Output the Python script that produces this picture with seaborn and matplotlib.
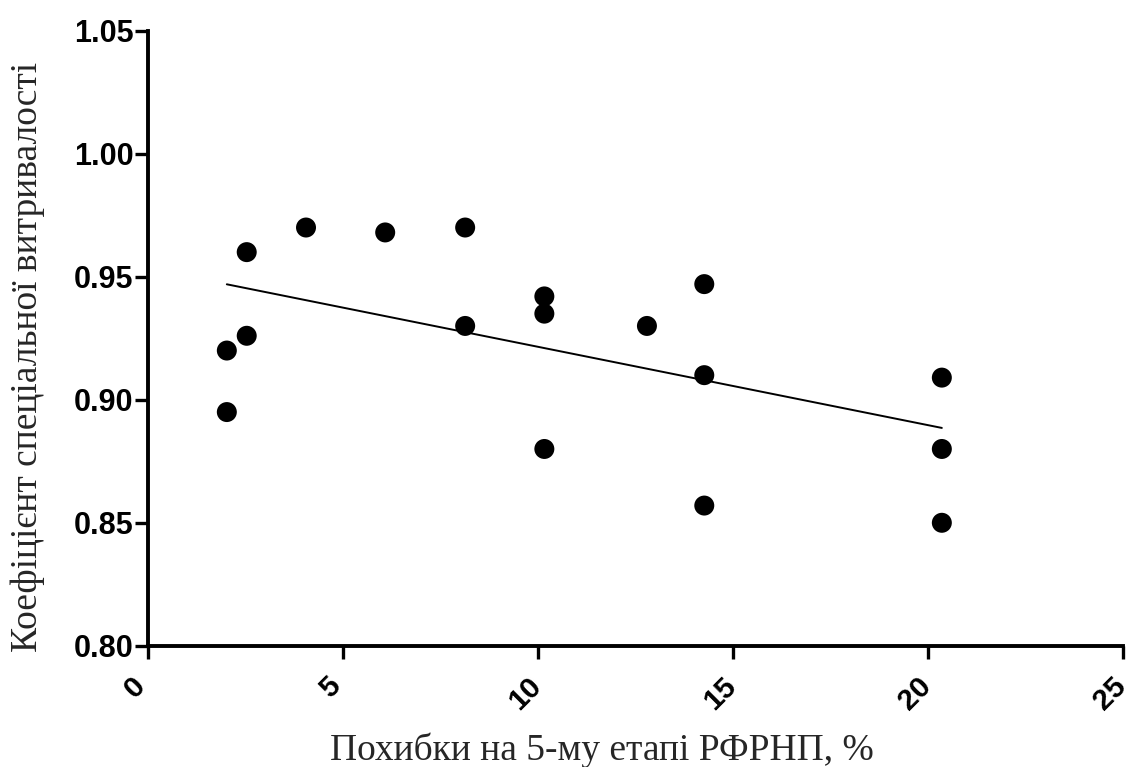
import numpy as np
import pandas as pd
import matplotlib
matplotlib.use("Agg")
import matplotlib.pyplot as plt
import matplotlib.transforms as mtransforms
from matplotlib.path import Path
import seaborn as sns

errors_pct = [2.02, 2.02, 2.53, 2.53, 4.05, 6.08, 8.13, 8.13, 10.16, 10.16, 10.16,
              12.79, 14.26, 14.26, 14.26, 20.35, 20.35, 20.35]
endurance = [0.920, 0.895, 0.960, 0.926, 0.970, 0.968, 0.970, 0.930, 0.942, 0.935, 0.880,
             0.930, 0.947, 0.910, 0.857, 0.909, 0.880, 0.850]
x_ticks = [0, 5, 10, 15, 20, 25]
y_ticks = [0.80, 0.85, 0.90, 0.95, 1.00, 1.05]
x_label = "Похибки на 5-му етапі РФРНП, %"
y_label = "Коефіцієнт спеціальної витривалості"

df = pd.DataFrame({"x": errors_pct, "y": endurance})

sns.set_theme(style="ticks")
plt.rcParams['font.family'] = ['Liberation Sans', 'DejaVu Sans']

fig = plt.figure(figsize=(11.3, 7.67), dpi=100)
ax = fig.add_axes([0.131, 0.158, 0.863, 0.802])

# slightly tall elliptical marker
circ = Path.unit_circle()
ellipse = Path(circ.vertices * np.array([0.9, 1.0]), circ.codes)

sns.regplot(data=df, x="x", y="y", ax=ax, ci=None, truncate=True,
            scatter_kws=dict(s=207, color="black", edgecolor="none", alpha=1, marker=ellipse),
            line_kws=dict(color="black", lw=1.4))

ax.set_xlim(0, 25)
ax.set_ylim(0.80, 1.05)
ax.set_xticks(x_ticks)
ax.set_yticks(y_ticks)
ax.set_xticklabels([str(t) for t in x_ticks], rotation=45, fontsize=21.5, fontweight='bold')
ax.set_yticklabels([f"{t:.2f}" for t in y_ticks], fontsize=22, fontweight='bold')
ax.tick_params(axis='both', direction='out', length=9.5, width=2.4, colors='black')
ax.tick_params(axis='y', pad=1)
ax.tick_params(axis='x', pad=9)
offset = mtransforms.ScaledTranslation(-13 / 100, 0, fig.dpi_scale_trans)
for lab in ax.get_xticklabels():
    lab.set_transform(lab.get_transform() + offset)

for s in ['top', 'right']:
    ax.spines[s].set_visible(False)
for s in ['left', 'bottom']:
    ax.spines[s].set_linewidth(2.8)
    ax.spines[s].set_color('black')

ax.set_xlabel(x_label, fontsize=27, family='Liberation Serif')
ax.set_ylabel(y_label, fontsize=27, family='Liberation Serif')
ax.xaxis.set_label_coords(0.4656, -0.1854)
ax.xaxis.label.set_verticalalignment('baseline')
ax.yaxis.set_label_coords(-0.1138, 0.47)
ax.yaxis.label.set_verticalalignment('baseline')

fig.savefig("out.png", dpi=100)
